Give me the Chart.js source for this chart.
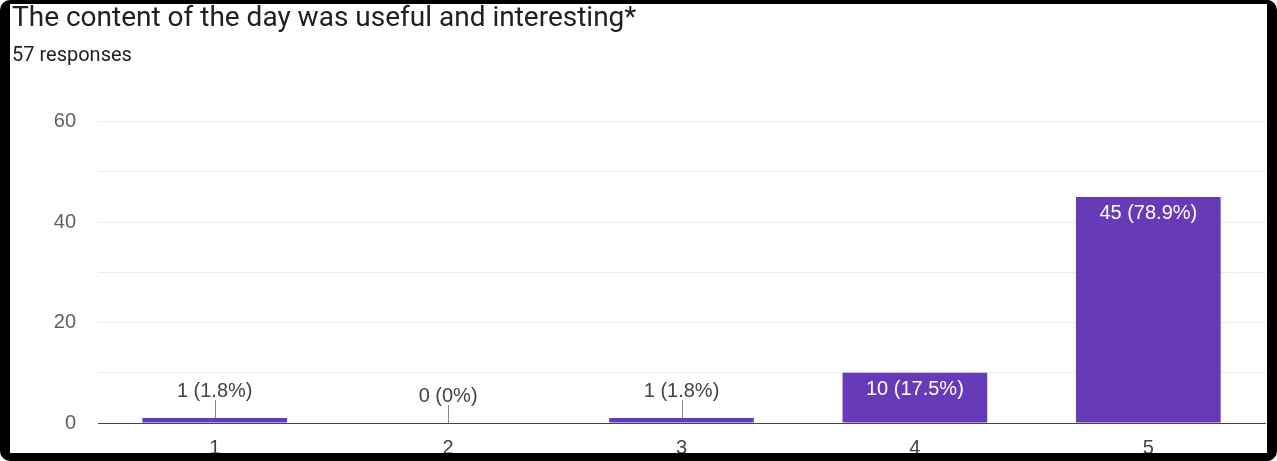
<!DOCTYPE html>
<html>
<head>
<meta charset="utf-8">
<script src="https://cdn.jsdelivr.net/npm/chart.js@4"></script>
<style>
  html, body { margin: 0; padding: 0; background: #fff; }
  #wrap { position: absolute; left: 0; top: 0; width: 1277px; height: 461px; }
  #frame {
    position: absolute; left: 0; top: 0; width: 1277px; height: 461px;
    box-sizing: border-box; border: solid #000; border-width: 4px 10px 8px 10px;
    border-radius: 10px; pointer-events: none;
  }
</style>
</head>
<body>
<div id="wrap"><canvas id="chart" width="1277" height="461"></canvas></div>
<div id="frame"></div>
<script>
// answers on the 1-5 scale
const categories = ["1", "2", "3", "4", "5"];
const counts = [1, 0, 1, 10, 45];
const percents = ["1.8%", "0%", "1.8%", "17.5%", "78.9%"];
const yTicks = [0, 20, 40, 60];

const titleText = "The content of the day was useful and interesting*";
const subtitleText = "57 responses";

const labelFont = "Arial, 'Liberation Sans', sans-serif";

// value labels: above the bar with a small leader line, or inside when the bar is tall
const barLabels = {
  id: "barLabels",
  afterDatasetsDraw(chart) {
    const ctx = chart.ctx;
    const meta = chart.getDatasetMeta(0);
    const base = chart.scales.y.getPixelForValue(0);
    ctx.save();
    ctx.font = "20px " + labelFont;
    ctx.textAlign = "center";
    ctx.textBaseline = "alphabetic";
    meta.data.forEach((bar, i) => {
      const text = counts[i] + " (" + percents[i] + ")";
      if (base - bar.y < 30) {
        ctx.strokeStyle = "#8a8a8a";
        ctx.lineWidth = 1;
        ctx.beginPath();
        ctx.moveTo(Math.round(bar.x) + 0.5, bar.y - 18);
        ctx.lineTo(Math.round(bar.x) + 0.5, bar.y);
        ctx.stroke();
        ctx.fillStyle = "#444";
        ctx.fillText(text, bar.x, bar.y - 21);
      } else {
        ctx.fillStyle = "#fff";
        ctx.fillText(text, bar.x, bar.y + 22);
      }
    });
    ctx.restore();
  }
};

new Chart(document.getElementById("chart"), {
  type: "bar",
  data: {
    labels: categories,
    datasets: [{
      data: counts,
      backgroundColor: "#673ab7",
      categoryPercentage: 1,
      barPercentage: 0.62
    }]
  },
  options: {
    responsive: false,
    animation: false,
    layout: { padding: { left: 12, right: 12, top: 2, bottom: 1 } },
    plugins: {
      legend: { display: false },
      tooltip: { enabled: false },
      title: {
        display: true,
        text: titleText,
        align: "start",
        color: "#202124",
        font: { family: "Roboto, Arial, sans-serif", size: 28, weight: "normal" },
        padding: { top: 0, bottom: 8 }
      },
      subtitle: {
        display: true,
        text: subtitleText,
        align: "start",
        color: "#202124",
        font: { family: "Roboto, Arial, sans-serif", size: 20 },
        padding: { top: 0, bottom: 54 }
      }
    },
    scales: {
      x: {
        afterFit(scale) { scale.height = 37; },
        grid: { display: false, drawTicks: false },
        border: { display: true, color: "#444", width: 1 },
        ticks: { color: "#444", font: { family: labelFont, size: 20 }, padding: 13 }
      },
      y: {
        min: 0,
        max: 60,
        afterFit(scale) { scale.width = 86; },
        grid: { color: "#ececec", drawTicks: false },
        border: { display: false },
        ticks: {
          stepSize: 10,
          padding: 22,
          color: "#5f5f5f",
          font: { family: labelFont, size: 20 },
          callback: v => yTicks.includes(v) ? v : ""
        }
      }
    }
  },
  plugins: [barLabels]
});
</script>
</body>
</html>
